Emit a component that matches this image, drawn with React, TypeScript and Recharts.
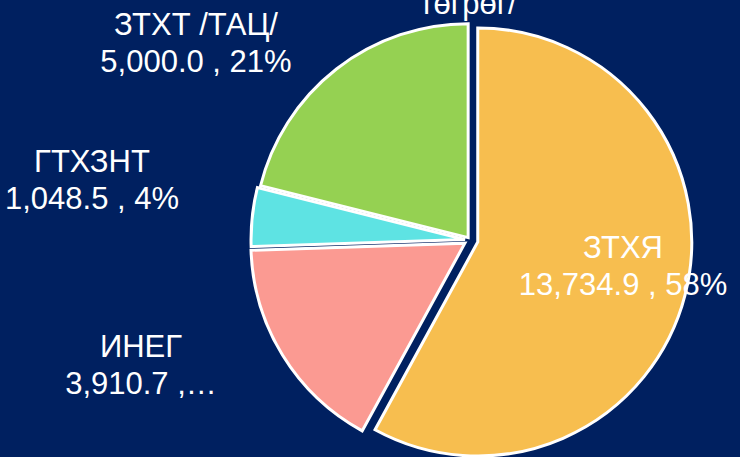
import { PieChart, Pie, Cell, Sector } from "recharts";

const NAMES = ["ЗТХЯ", "ИНЕГ", "ГТХЗНТ", "ЗТХТ /ТАЦ/"];
const VALUES = [13734.9, 3910.7, 1048.5, 5000.0];
const COLORS = ["#F7BE4F", "#FB9A92", "#5EE3E3", "#95D152"];
// Excel-style point explosion, px along each slice's mid angle
const EXPLODE = [8, 6, 5, 3];
// label anchor relative to pie centre (text centre x, first baseline y)
const LABEL_AT = [
  [153, 18],
  [-329, 117],
  [-378, -68],
  [-274, -205],
];
const CUT_LABEL = [false, true, false, false];

const TOTAL = VALUES.reduce((a, b) => a + b, 0);
const data = NAMES.map((name, i) => ({ name, value: VALUES[i] }));

const RAD = Math.PI / 180;
const FONT = "'Liberation Sans', Arial, sans-serif";

const fmt = (v: number) =>
  v.toLocaleString("en-US", { minimumFractionDigits: 1, maximumFractionDigits: 1 });

function ExplodedSlice(props: any) {
  const off = EXPLODE[props.index] ?? 0;
  const dx = off * Math.cos(-props.midAngle * RAD);
  const dy = off * Math.sin(-props.midAngle * RAD);
  return <Sector {...props} cx={props.cx + dx} cy={props.cy + dy} />;
}

function SliceLabel(props: any) {
  const { cx, cy, index } = props;
  const [lx, ly] = LABEL_AT[index];
  const pct = Math.round((VALUES[index] / TOTAL) * 100);
  const second = CUT_LABEL[index] ? `${fmt(VALUES[index])} ,…` : `${fmt(VALUES[index])} , ${pct}%`;
  return (
    <text x={cx + lx} y={cy + ly} fill="#fff" fontSize={31} fontFamily={FONT} textAnchor="middle">
      <tspan x={cx + lx}>{NAMES[index]}</tspan>
      <tspan x={cx + lx} dy={37}>{second}</tspan>
    </text>
  );
}

export default function App() {
  return (
    <div style={{ position: "fixed", left: 0, top: 0, width: 740, height: 457, background: "#002060", overflow: "hidden" }}>
      <PieChart width={740} height={457} margin={{ top: 0, right: 0, bottom: 0, left: 0 }}>
        <text x={468} y={14} fill="#fff" fontSize={31} fontFamily={FONT} textAnchor="middle">
          төгрөг/
        </text>
        <Pie
          data={data}
          dataKey="value"
          nameKey="name"
          cx={470}
          cy={240}
          outerRadius={214}
          startAngle={90}
          endAngle={-270}
          stroke="#fff"
          strokeWidth={3}
          shape={ExplodedSlice}
          label={SliceLabel}
          labelLine={false}
          isAnimationActive={false}
        >
          {data.map((_, i) => (
            <Cell key={i} fill={COLORS[i]} />
          ))}
        </Pie>
      </PieChart>
    </div>
  );
}
